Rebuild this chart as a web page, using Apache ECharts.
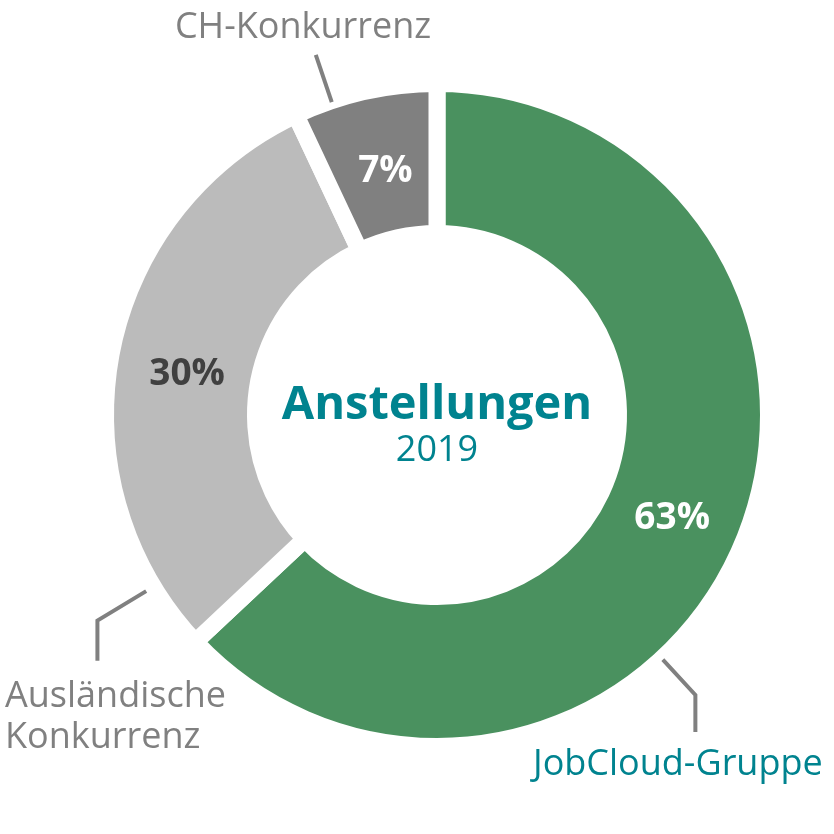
<!DOCTYPE html>
<html>
<head>
<meta charset="utf-8">
<script src="https://cdn.jsdelivr.net/npm/echarts@6/dist/echarts.min.js"></script>
<style>html,body{margin:0;padding:0;background:#fff}#c{width:834px;height:834px}</style>
</head>
<body>
<div id="c"></div>
<script>
// ---- data ----
const categories = ['JobCloud-Gruppe', 'Ausländische\nKonkurrenz', 'CH-Konkurrenz'];
const shares = [63, 30, 7];
const centerTitle = 'Anstellungen';
const centerYear = '2019';

// ---- styles / layout ----
const sliceColors = ['#4a915f', '#bbbbbb', '#808080'];
const pctColors = ['#ffffff', '#404040', '#ffffff'];
const pctOffsets = [[-3, 0], [5, 8], [5, 10]];
const nameColors = ['#00838f', '#808080', '#808080'];
const TEAL = '#00838f';
const CX = 437, CY = 415;
const GAP = 17;
const R_OUT = 323, R_IN = 190;
const FONT = '"Open Sans", "Noto Sans", sans-serif';
// leader line config per category: angle (deg), start radius, elbow radius, vertical drop, label offset from center
const leaders = [
  {angle: -47.3, r1: 333, r2: 381, drop: 37, tx: 96, ty: 350, align: 'left', valign: 'middle'},
  {angle: 211.2, r1: 340, r2: 397, drop: 40, tx: -432, ty: 261, align: 'left', valign: 'top'},
  {angle: 108.6, r1: 330, r2: 380, drop: 0, tx: -134, ty: -387, align: 'center', valign: 'middle'}
];

const chart = echarts.init(document.getElementById('c'), null, {renderer: 'canvas'});

const baseData = categories.map((n, i) => ({name: n, value: shares[i]}));

chart.setOption({
  animation: false,
  title: {
    text: centerTitle,
    subtext: centerYear,
    left: 432,
    top: 377,
    textAlign: 'center',
    itemGap: 4,
    textStyle: {fontFamily: FONT, fontSize: 47, fontWeight: 'bold', color: TEAL},
    subtextStyle: {fontFamily: FONT, fontSize: 36, color: TEAL}
  },
  series: [
    {
      type: 'pie',
      center: [CX, CY],
      radius: [R_IN - GAP / 2, R_OUT + GAP / 2],
      startAngle: 90,
      clockwise: true,
      silent: true,
      avoidLabelOverlap: false,
      data: baseData.map((d, i) => ({
        name: d.name, value: d.value,
        itemStyle: {color: sliceColors[i], borderColor: '#ffffff', borderWidth: GAP, borderJoin: 'round'},
        label: {color: pctColors[i], offset: pctOffsets[i]}
      })),
      label: {
        show: true,
        position: 'inside',
        formatter: p => p.value + '%',
        fontFamily: FONT, fontSize: 37, fontWeight: 'bold'
      },
      labelLine: {show: false},
      emphasis: {disabled: true}
    },
    {
      type: 'pie',
      center: [CX, CY],
      radius: [R_IN, R_OUT],
      startAngle: 90,
      clockwise: true,
      silent: true,
      avoidLabelOverlap: false,
      z: 3,
      data: baseData.map((d, i) => ({
        name: d.name, value: d.value,
        itemStyle: {color: 'rgba(0,0,0,0)', borderWidth: 0},
        label: {color: nameColors[i]}
      })),
      label: {
        show: true,
        position: 'outside',
        formatter: p => p.name,
        fontFamily: FONT, fontSize: 36, lineHeight: 41
      },
      labelLine: {show: true, length: 20, length2: 20, lineStyle: {color: '#808080', width: 4}},
      labelLayout: function (p) {
        const c = leaders[p.dataIndex];
        const a = c.angle * Math.PI / 180;
        const p1 = [CX + c.r1 * Math.cos(a), CY - c.r1 * Math.sin(a)];
        const p2 = [CX + c.r2 * Math.cos(a), CY - c.r2 * Math.sin(a)];
        const pts = [p1, p2, [p2[0], p2[1] + c.drop]];
        return {x: CX + c.tx, y: CY + c.ty, align: c.align, verticalAlign: c.valign, labelLinePoints: pts};
      },
      emphasis: {disabled: true}
    }
  ]
});
</script>
</body>
</html>
